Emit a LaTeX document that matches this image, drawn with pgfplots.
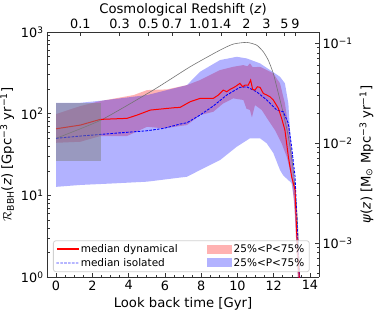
\documentclass[border=0pt]{standalone}
\usepackage{fontspec}
\setmainfont{DejaVu Sans}
\usepackage{pgfplots}
\pgfplotsset{compat=1.18}
\definecolor{legred}{rgb}{1,0,0}
\definecolor{legblue}{rgb}{0,0,1}
\pgfplotsset{
  redline/.style={legend image code/.code={\node[inner sep=0pt, anchor=west, text=legred] at (0pt,0pt) {\textcolor{legred}{\rule[-0.6pt]{22pt}{1.2pt}}};}},
  blueline/.style={legend image code/.code={\fill[legblue, draw=none, sharp corners] (0pt,-0.45pt) rectangle (2.6pt,0.45pt) (3.9pt,-0.45pt) rectangle (6.5pt,0.45pt) (7.8pt,-0.45pt) rectangle (10.4pt,0.45pt) (11.7pt,-0.45pt) rectangle (14.3pt,0.45pt) (15.6pt,-0.45pt) rectangle (18.2pt,0.45pt) (19.5pt,-0.45pt) rectangle (22pt,0.45pt);}},
  redpatch/.style={legend image code/.code={\fill[red, fill opacity=0.3, draw=none, sharp corners] (0pt,-4.5pt) rectangle (25pt,4.5pt);}},
  bluepatch/.style={legend image code/.code={\fill[blue, fill opacity=0.3, draw=none, sharp corners] (0pt,-4.5pt) rectangle (25pt,4.5pt);}},
  common/.style={
    scale only axis, width=272pt, height=245pt,
    xmin=-0.5, xmax=14.5,
    tick align=inside,
    /pgf/number format/assume math mode=true,
    tick label style={font=\fontsize{12.8}{14}\selectfont},
    label style={font=\fontsize{13.2}{15}\selectfont},
    axis line style={black!80, line width=0.8pt},
    major tick style={black!80, line width=0.7pt},
    minor tick style={black!80, line width=0.5pt},
    major tick length=4.3pt, minor tick length=2.5pt,
  }
}
\begin{document}
\begin{tikzpicture}
\begin{axis}[common,
  ymode=log, ymin=1, ymax=1000,
  axis x line*=bottom, axis y line*=left,
  xtick={0,2,4,6,8,10,12,14}, minor x tick num=3,
  ytick={1,10,100,1000},
  yticklabels={10\textsuperscript{0},10\textsuperscript{1},10\textsuperscript{2},10\textsuperscript{3}},
  minor ytick={2,3,4,5,6,7,8,9,20,30,40,50,60,70,80,90,200,300,400,500,600,700,800,900},
  xlabel={Look back time [Gyr]},
  ylabel={\(\mathcal{R}\)\textsubscript{BBH}(\textit{z}) [Gpc\textsuperscript{−3} yr\textsuperscript{−1}]},
  legend columns=2,
  legend cell align=left,
  legend style={at={(0.022,0.02)}, anchor=south west,
    font=\fontsize{10.5}{12}\selectfont,
    draw=black!18, line width=0.8pt, rounded corners=2.5pt,
    fill=white, fill opacity=0.8, draw opacity=1, text opacity=1,
    inner xsep=3pt, inner ysep=2pt,
    /tikz/every even column/.append style={column sep=27pt}},
]
% red band (25-75%, dynamical)
\addplot[draw=none, fill=red, fill opacity=0.3, forget plot] coordinates {
(0,98.9) (1.34,123.9) (2.44,142.6) (4.28,169) (5.02,194.5) (6.12,198.3) (7.22,223.9)
(7.94,257.8) (9.04,341.9) (9.77,375) (10.33,393.6) (10.55,380) (10.69,412.8) (10.85,370)
(11.25,375) (11.62,341.9) (11.98,311.2) (12.35,234.9) (12.62,133.6) (12.90,52.2)
(13.08,20.4) (13.29,3.76) (13.47,0.5)
(13.38,0.5) (13.18,5.74) (12.99,16.9) (12.72,29.7) (12.44,43.3) (12.07,63) (11.70,83.5)
(11.34,111) (10.97,127.4) (10.80,90) (10.69,111) (10.50,115) (10.33,147) (9.77,153.9)
(9.22,133.6) (8.67,105.5) (7.94,96.1) (7.22,72.5) (5.94,66.1) (5.02,69.1) (3.91,53.2)
(2.44,53.2) (1.34,45.3) (0,44.0)
} -- cycle;
% blue band (25-75%, isolated)
\addplot[draw=none, fill=blue, fill opacity=0.3, forget plot] coordinates {
(0,135.9) (1.34,135.9) (2.44,143.9) (5.02,169) (7.22,223.9) (7.94,325.9) (9.04,453)
(9.96,497) (10.51,475) (11.25,412.8) (11.80,341.9) (12.35,283) (12.62,234.9)
(12.81,133.6) (12.90,63) (13.08,24.6) (13.18,14.0) (13.25,6) (13.34,2) (13.50,0.5)
(13.40,0.5) (13.22,3.5) (13.12,9) (12.99,14.0) (12.90,14.7) (12.53,17.5) (12.35,20.4)
(11.98,33) (11.62,43.3) (11.25,49.9) (10.69,49.9) (9.96,39.3) (9.04,27) (7.94,20.4)
(7.22,16.9) (5.02,14.7) (3.18,14.0) (1.34,13.4) (0,12.7)
} -- cycle;
% star formation rate (grey line)
\addplot[black!55, line width=0.6pt, smooth, tension=0.35, forget plot] coordinates {
(0,49.9) (2.5,84) (5.36,194.5) (7.39,375) (9.04,600) (9.77,711) (10.51,746) (11.06,691)
(11.43,572) (11.70,453) (11.98,311) (12.26,177) (12.53,100.9) (12.81,52.2) (13.08,20.4)
(13.29,5.74) (13.40,1.6) (13.46,0.5)
};
% median isolated
\addplot[blue, line width=0.9pt, dash pattern=on 2.6pt off 1.3pt, forget plot] coordinates {
(0,49.9) (1.34,53.2) (3.18,57.4) (5.02,61.8) (5.94,66.1) (6.84,74.6) (7.22,77.4)
(7.94,96.1) (8.67,123.9) (9.41,169) (10.14,209.9) (10.51,213.4) (11.06,185.4)
(11.62,147) (12.17,111) (12.53,105.5) (12.81,76.1) (12.99,39.3) (13.18,16.9)
(13.30,4) (13.43,1) (13.47,0.6)
};
% median dynamical
\addplot[red, line width=1pt, forget plot] coordinates {
(0,65.3) (1.34,72.5) (2.44,85.1) (3.91,87.6) (4.47,96.1) (5.20,110.7) (6.49,118.1)
(6.84,119.4) (7.39,139.9) (7.94,153.9) (8.67,153.9) (8.95,169) (9.22,194.5) (9.41,185.4)
(9.59,198.3) (9.87,213.4) (10.14,234.9) (10.29,213.4) (10.42,223.9) (10.60,223.9)
(10.73,257.8) (10.84,198.3) (10.97,194.5) (11.10,213.4) (11.25,209.9) (11.43,177)
(11.62,169) (11.80,161) (11.98,147) (12.26,116) (12.44,87.6) (12.62,63) (12.81,29.7)
(12.99,16.9) (13.18,11.6) (13.27,3.46) (13.41,1) (13.45,0.6)
};
% observed rate box
\addplot[draw=none, fill=gray, fill opacity=0.5, forget plot] coordinates {
(0,26.5) (2.5,26.5) (2.5,134) (0,134)
} -- cycle;
\addlegendimage{redline}
\addlegendentry{median dynamical}
\addlegendimage{redpatch}
\addlegendentry{25\%<P<75\%}
\addlegendimage{blueline}
\addlegendentry{median isolated}
\addlegendimage{bluepatch}
\addlegendentry{25\%<P<75\%}
\coordinate (BL) at (rel axis cs:0,0);
\coordinate (TR) at (rel axis cs:1,1);
\end{axis}
\begin{axis}[common,
  ymode=log, ymin=4.57e-4, ymax=0.129,
  axis x line*=top, axis y line*=right,
  xtick={1.34,3.5,5.1,6.4,7.9,9.1,10.5,11.6,12.6,13.2},
  xticklabels={0.1,0.3,0.5,0.7,1.0,1.4,2,3,5,9},
  ytick={0.001,0.01,0.1},
  yticklabels={10\textsuperscript{−3},10\textsuperscript{−2},10\textsuperscript{−1}},
  minor ytick={5e-4,6e-4,7e-4,8e-4,9e-4,2e-3,3e-3,4e-3,5e-3,6e-3,7e-3,8e-3,9e-3,2e-2,3e-2,4e-2,5e-2,6e-2,7e-2,8e-2,9e-2},
  xlabel={Cosmological Redshift (\textit{z})},
  xlabel style={font=\fontsize{13.2}{15}\selectfont, at={(rel axis cs:0.5,1)}, anchor=base, yshift=18.5pt, inner sep=0pt},
  ylabel={\textit{ψ}(\textit{z}) [M\textsubscript{⊙} Mpc\textsuperscript{−3} yr\textsuperscript{−1}]},
]
\addplot[draw=none] coordinates {(0,0.01)};
\end{axis}
\pgfresetboundingbox
\path[use as bounding box] ([xshift=-47pt,yshift=-34pt]BL) rectangle ([xshift=55pt,yshift=32pt]TR);
\end{tikzpicture}
\end{document}
